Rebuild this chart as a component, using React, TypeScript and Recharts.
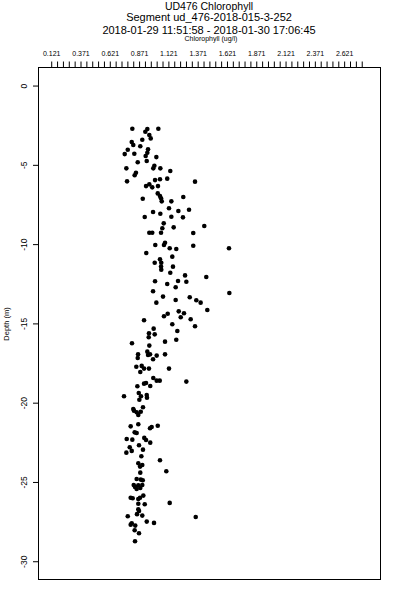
import React from 'react';
import { ScatterChart, Scatter, XAxis, YAxis } from 'recharts';

// Chlorophyll (ug/l) readings and the matching depth (m)
const chlorophyll = [
  0.809, 0.920, 0.937, 1.031, 0.954, 0.966, 0.894, 0.804, 0.817, 0.877,
  0.770, 0.943, 0.937, 0.923, 0.744, 0.826, 1.014, 0.932, 0.855, 0.758,
  0.988, 0.997, 1.048, 1.133, 0.840, 0.829, 0.764, 1.003, 1.045, 1.107,
  1.344, 0.926, 0.954, 0.979, 1.028, 1.026, 1.045, 1.054, 0.898, 1.060,
  1.142, 1.244, 1.122, 0.986, 1.048, 1.202, 1.293, 0.915, 1.142, 1.241,
  1.077, 1.065, 1.162, 1.423, 0.954, 0.979, 1.054, 1.329, 1.088, 1.079,
  1.005, 1.128, 1.184, 1.329, 1.634, 0.928, 1.150, 1.045, 1.056, 1.000,
  1.054, 1.056, 1.156, 1.133, 1.259, 1.440, 1.003, 1.107, 1.199, 1.270,
  1.179, 0.986, 1.637, 1.071, 1.299, 1.355, 1.392, 1.179, 1.014, 1.449,
  1.205, 1.250, 1.111, 1.079, 1.222, 1.307, 0.909, 1.150, 1.344, 0.991,
  1.193, 0.951, 0.949, 1.000, 0.806, 1.088, 1.184, 0.954, 0.858, 0.855,
  0.937, 0.943, 0.960, 1.017, 1.088, 0.986, 0.843, 0.889, 0.909, 0.877,
  0.951, 1.122, 0.988, 1.017, 1.043, 0.909, 0.926, 1.270, 0.852, 0.962,
  0.738, 0.864, 0.883, 0.869, 0.932, 0.934, 0.817, 0.900, 0.823, 0.846,
  0.881, 0.860, 0.795, 0.860, 0.960, 0.974, 1.026, 0.829, 0.846, 0.761,
  0.809, 0.911, 0.926, 0.962, 0.866, 0.787, 0.804, 0.900, 0.758, 0.886,
  1.045, 0.860, 0.875, 0.894, 1.099, 0.877, 0.846, 0.881, 0.898, 0.821,
  0.832, 0.860, 0.894, 0.846, 0.877, 0.795, 0.812, 0.860, 0.875, 0.903,
  0.860, 0.915, 1.128, 0.860, 0.866, 0.849, 0.894, 0.770, 1.350, 0.932,
  0.994, 0.804, 0.795, 0.834, 0.829, 0.866, 0.832,
];

const depth = [
  -2.69, -2.88, -2.71, -2.69, -3.09, -3.30, -3.39, -3.53, -3.72, -3.80,
  -4.02, -3.99, -4.21, -4.41, -4.29, -4.27, -4.48, -4.73, -4.81, -5.19,
  -5.19, -5.03, -5.19, -5.36, -5.47, -5.63, -6.01, -5.93, -5.88, -5.84,
  -6.03, -6.31, -6.20, -6.39, -6.31, -6.77, -6.94, -7.08, -7.11, -7.27,
  -7.27, -7.00, -7.71, -7.94, -8.05, -7.88, -7.80, -8.26, -8.24, -8.28,
  -8.66, -8.97, -8.91, -8.83, -9.25, -9.25, -9.25, -9.27, -9.88, -10.02,
  -10.02, -10.23, -10.28, -10.07, -10.23, -10.53, -10.76, -10.93, -11.14, -11.14,
  -11.38, -11.58, -11.39, -11.77, -11.94, -12.04, -12.31, -12.48, -12.29, -12.34,
  -12.69, -12.94, -13.05, -13.28, -13.32, -13.51, -13.66, -13.49, -13.66, -14.12,
  -14.21, -14.33, -14.36, -14.52, -14.58, -14.71, -14.77, -15.02, -15.15, -15.30,
  -15.45, -15.59, -15.84, -15.66, -16.22, -16.12, -16.00, -16.37, -16.92, -17.15,
  -16.75, -16.96, -16.92, -17.00, -16.92, -17.23, -17.70, -17.65, -17.82, -18.03,
  -17.82, -17.82, -18.41, -18.58, -18.58, -18.77, -18.73, -18.64, -18.93, -18.92,
  -19.56, -19.36, -19.56, -19.78, -19.48, -19.65, -20.37, -20.26, -20.47, -20.57,
  -20.54, -20.74, -21.46, -21.33, -21.58, -21.50, -21.42, -21.84, -21.88, -22.26,
  -22.30, -22.19, -22.32, -22.49, -22.65, -22.78, -23.01, -22.93, -23.12, -23.35,
  -23.60, -23.79, -24.00, -23.90, -24.29, -24.38, -24.78, -24.82, -24.86, -25.16,
  -25.28, -25.18, -25.16, -25.41, -25.35, -25.96, -26.00, -26.04, -25.96, -25.83,
  -26.34, -26.37, -26.29, -26.69, -26.80, -27.00, -27.09, -27.13, -27.18, -27.47,
  -27.55, -27.57, -27.66, -27.72, -28.01, -28.20, -28.71,
];

const xTickLabels = ['0.121', '0.371', '0.621', '0.871', '1.121', '1.371', '1.621', '1.871', '2.121', '2.371', '2.621'];
const yTicks = [0, -5, -10, -15, -20, -25, -30];
const titleLines = ['UD476 Chlorophyll', 'Segment ud_476-2018-015-3-252', '2018-01-29 11:51:58 - 2018-01-30 17:06:45'];

// minor ticks every 0.05 from the first label
const xTicks: number[] = [];
for (let i = 0; i < 54; i++) xTicks.push(Math.round((0.121 + i * 0.05) * 1000) / 1000);

const data = chlorophyll.map((c, i) => ({ chl: c, depth: depth[i] }));

const FONT = '"Liberation Sans", Arial, Helvetica, sans-serif';

const TopTick = (props: any) => {
  const { x, payload } = props;
  const label = xTickLabels.find((l) => Math.abs(parseFloat(l) - payload.value) < 1e-6);
  if (!label) return null;
  return (
    <text x={x} y={56} textAnchor="middle" fontSize={7} fontFamily={FONT} fill="#000">
      {label}
    </text>
  );
};

const LeftTick = (props: any) => {
  const { y, payload } = props;
  return (
    <text
      x={24}
      y={y}
      transform={`rotate(-90, 24, ${y})`}
      textAnchor="middle"
      dominantBaseline="central"
      fontSize={8.5}
      fontFamily={FONT}
      fill="#000"
    >
      {payload.value}
    </text>
  );
};

const Dot = (props: any) => <circle cx={props.cx} cy={props.cy} r={2.3} fill="#000" />;

export default function App() {
  return (
    <div style={{ position: 'absolute', left: 0, top: 0, width: 400, height: 600, background: '#fff', fontFamily: FONT }}>
      {/* Titles */}
      {titleLines.map((t, i) => (
        <div
          key={t}
          style={{
            position: 'absolute',
            left: 0,
            width: 418,
            top: [0, 11, 23.5][i],
            textAlign: 'center',
            fontSize: i === 0 ? 10.5 : 11,
            lineHeight: '12px',
            color: '#000',
            whiteSpace: 'nowrap',
          }}
        >
          {t}
        </div>
      ))}
      <div
        style={{
          position: 'absolute',
          left: 0,
          width: 422,
          top: 34,
          textAlign: 'center',
          fontSize: 7,
          lineHeight: '9px',
          color: '#000',
        }}
      >
        Chlorophyll (ug/l)
      </div>
      <div
        style={{
          position: 'absolute',
          left: 6,
          top: 324,
          transform: 'translate(-50%, -50%) rotate(-90deg)',
          fontSize: 7.5,
          whiteSpace: 'nowrap',
          color: '#000',
        }}
      >
        Depth (m)
      </div>

      <ScatterChart width={400} height={600} margin={{ top: 37.5, right: 19.5, bottom: 20.5, left: 8 }}>
        <XAxis
          type="number"
          dataKey="chl"
          orientation="top"
          height={30}
          domain={[0.004, 2.927]}
          ticks={xTicks}
          interval={0}
          axisLine={false}
          tickSize={6}
          tickLine={{ stroke: '#000' }}
          tick={<TopTick />}
        />
        <YAxis
          type="number"
          dataKey="depth"
          width={30}
          domain={[-31.12, 1.17]}
          ticks={yTicks}
          interval={0}
          axisLine={false}
          tickSize={5}
          tickLine={{ stroke: '#000' }}
          tick={<LeftTick />}
        />
        <Scatter data={data} shape={<Dot />} isAnimationActive={false} />
      </ScatterChart>

      {/* plot frame */}
      <div
        style={{
          position: 'absolute',
          left: 38,
          top: 67,
          width: 343,
          height: 513,
          border: '1px solid #000',
          boxSizing: 'border-box',
          pointerEvents: 'none',
        }}
      />
    </div>
  );
}
